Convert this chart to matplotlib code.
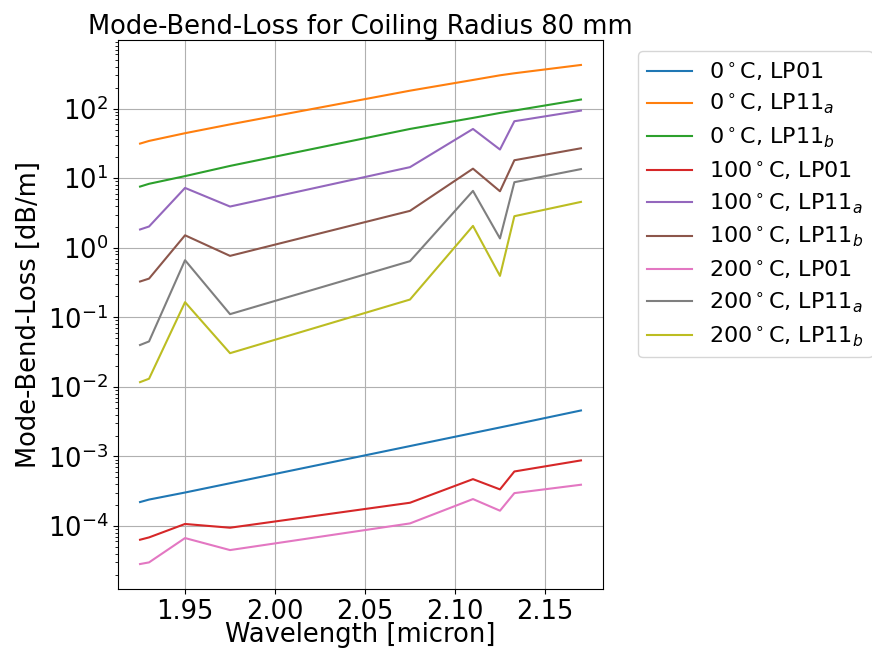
import matplotlib as mat
mat.use('agg')
import matplotlib.pyplot as plt

# wavelengths [micron]
wavelength = [1.925, 1.93, 1.95, 1.975, 2.075, 2.11, 2.125, 2.133, 2.17]

# bend loss [dB/m] per temperature and mode
loss_0_lp01 = [2.21e-4, 2.40e-4, 3.03e-4, 4.12e-4, 1.41e-3, 2.17e-3, 2.61e-3, 2.88e-3, 4.58e-3]
loss_0_lp11a = [31.4, 34.3, 44.3, 59.3, 181, 258, 301, 322, 424]
loss_0_lp11b = [7.57, 8.3, 10.7, 15.0, 51, 73.5, 86.6, 93.7, 135]
loss_100_lp01 = [6.35e-5, 6.86e-5, 1.07e-4, 9.45e-5, 2.16e-4, 4.72e-4, 3.36e-4, 6.08e-4, 8.77e-4]
loss_100_lp11a = [1.83, 2.02, 7.24, 3.91, 14.4, 51, 25.8, 65.8, 93.6]
loss_100_lp11b = [0.327, 0.36, 1.51, 0.764, 3.39, 13.7, 6.48, 18.1, 26.9]
loss_200_lp01 = [2.84e-5, 3.0e-5, 6.71e-5, 4.51e-5, 1.09e-4, 2.44e-4, 1.66e-4, 2.97e-4, 3.92e-4]
loss_200_lp11a = [0.040, 0.045, 0.662, 0.111, 0.641, 6.56, 1.36, 8.75, 13.5]
loss_200_lp11b = [0.0117, 0.0131, 0.165, 0.0305, 0.180, 2.06, 0.394, 2.84, 4.56]

labels = [r'0$^\circ$C, LP01', r'0$^\circ$C, LP11$_a$', r'0$^\circ$C, LP11$_b$',
          r'100$^\circ$C, LP01', r'100$^\circ$C, LP11$_a$', r'100$^\circ$C, LP11$_b$',
          r'200$^\circ$C, LP01', r'200$^\circ$C, LP11$_a$', r'200$^\circ$C, LP11$_b$']
series = [loss_0_lp01, loss_0_lp11a, loss_0_lp11b,
          loss_100_lp01, loss_100_lp11a, loss_100_lp11b,
          loss_200_lp01, loss_200_lp11a, loss_200_lp11b]

fig = plt.figure(figsize=(8.72, 6.56), dpi=100)
ax = fig.add_axes([118 / 872, 67 / 656, 485 / 872, 549 / 656])

for values, label in zip(series, labels):
    ax.plot(wavelength, values, label=label)

ax.set_yscale('log')
ax.grid(True)
ax.set_title('Mode-Bend-Loss for Coiling Radius 80 mm', fontsize=18.5, pad=4)
ax.set_xlabel('Wavelength [micron]', fontsize=18.5, labelpad=-2)
ax.set_ylabel('Mode-Bend-Loss [dB/m]', fontsize=18.5)
ax.tick_params(axis='both', which='major', labelsize=18.5)
ax.legend(bbox_to_anchor=(1.05, 1), loc='upper left', fontsize=16,
          labelspacing=0.42)

fig.savefig('out.png', dpi=100)
